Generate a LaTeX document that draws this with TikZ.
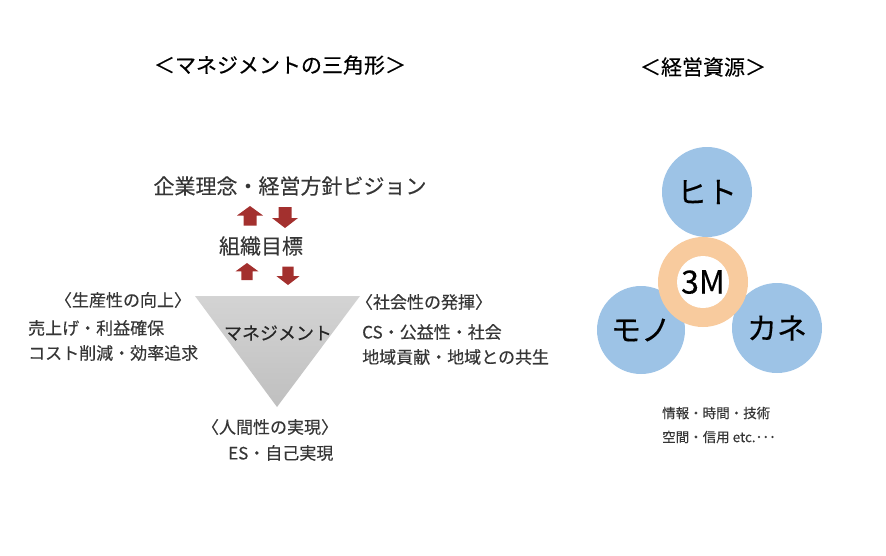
\documentclass[tikz,border=0pt]{standalone}
\usepackage{fontspec}
\setmainfont{Noto Sans CJK JP}[FakeBold=0.3]
\definecolor{arrowred}{HTML}{A3302E}
\definecolor{ballblue}{HTML}{9DC3E6}
\definecolor{ringorange}{HTML}{F8CB9E}
\definecolor{txtgray}{HTML}{363636}
\begin{document}
\begin{tikzpicture}[x=1pt,y=-1pt,
  heading/.style={inner sep=0,font=\fontsize{21}{21}\selectfont},
  lbl/.style={inner sep=0,text=txtgray,font=\fontsize{17}{17}\selectfont},
  uparrow/.pic={\fill[arrowred] (0,0) -- (13,9.5) -- (6.5,9.5) -- (6.5,19.5) -- (-6.5,19.5) -- (-6.5,9.5) -- (-13,9.5) -- cycle;},
  downarrow/.pic={\fill[arrowred] (0,0) -- (13,-10) -- (6.5,-10) -- (6.5,-21) -- (-6.5,-21) -- (-6.5,-10) -- (-13,-10) -- cycle;},
  ball/.style={circle,fill=ballblue,inner sep=0,minimum size=90pt,font=\fontsize{30}{30}\selectfont}]
\useasboundingbox (0,0) rectangle (886,555);
% left: management triangle
\node[heading] (title1) at (280,65) {＜マネジメントの三角形＞};
\node[heading,text=txtgray] (vision) at (290,186) {企業理念・経営方針ビジョン};
\node[heading,text=txtgray] (goal) at (261,246) {組織目標};
\pic (up1) at (250,206) {uparrow};
\pic (down1) at (285,228) {downarrow};
\pic[scale=0.88] (up2) at (247,263) {uparrow};
\pic[scale=0.88] (down2) at (288,285) {downarrow};
\shade[top color=black!17,bottom color=black!25] (195,296) -- (360,296) -- (277,407) -- cycle;
\node[lbl,text=black!85,font=\fontsize{18}{18}\selectfont] (mgmt) at (278,333) {マネジメント};
\node[lbl] (prod) at (123,300) {〈生産性の向上〉};
\node[lbl,anchor=west] (prod1) at (28,328) {売上げ・利益確保};
\node[lbl,anchor=west] (prod2) at (28,353) {コスト削減・効率追求};
\node[lbl] (soc) at (424,302) {〈社会性の発揮〉};
\node[lbl,anchor=west] (soc1) at (362,332) {CS・公益性・社会};
\node[lbl,anchor=west] (soc2) at (362,357) {地域貢献・地域との共生};
\node[lbl] (hum) at (270,427) {〈人間性の実現〉};
\node[lbl,anchor=west] (hum1) at (228,453) {ES・自己実現};
% right: management resources
\node[heading] (title2) at (703,67) {＜経営資源＞};
\node[ball] (hito) at (707,192) {ヒト};
\node[ball,minimum size=88pt] (mono) at (641,330) {モノ};
\node[ball] (kane) at (777,328) {カネ};
\node[circle,fill=ringorange,minimum size=90pt] (ring) at (703,282) {};
\node[circle,fill=white,inner sep=0,minimum size=52pt,font=\fontsize{32}{32}\selectfont] (core) at (ring) {3M};
\node[lbl,anchor=west,font=\fontsize{13.5}{13.5}\selectfont] (misc1) at (662,413) {情報・時間・技術};
\node[lbl,anchor=west,font=\fontsize{13.5}{13.5}\selectfont] (misc2) at (662,437) {空間・信用 etc.･･･};
\end{tikzpicture}
\end{document}
